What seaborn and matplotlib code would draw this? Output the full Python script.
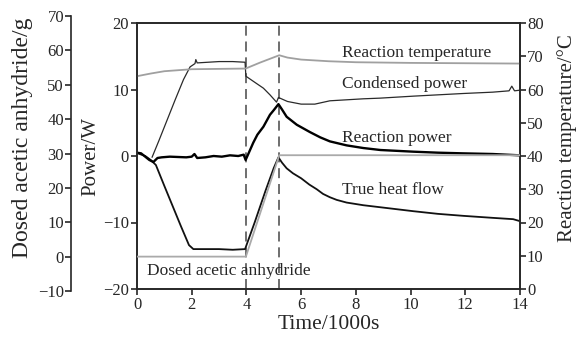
import numpy as np
import pandas as pd
import seaborn as sns
import matplotlib
matplotlib.use("Agg")
import matplotlib.pyplot as plt

# time axis in 1000 s
rp_t = [0, 0.15, 0.3, 0.45, 0.6, 0.75, 0.9, 1.2, 1.5, 1.8, 2.0, 2.1, 2.2, 2.5, 2.8,
        3.1, 3.4, 3.7, 3.9, 3.97, 4.1, 4.25, 4.4, 4.62, 4.86, 5.0, 5.17, 5.3, 5.47,
        5.84, 6.32, 6.7, 7.05, 7.66, 8.27, 8.9, 10.1, 11.0, 11.9, 13.0, 13.75, 14.0]
rp_w = [0.5, 0.4, -0.1, -0.6, -0.9, -0.3, -0.2, -0.1, -0.15, -0.2, -0.1, 0.3, -0.3,
        -0.2, 0.0, -0.1, 0.1, 0.0, 0.2, -0.6, 0.6, 2.0, 3.2, 4.4, 6.2, 6.9, 7.8, 7.0,
        5.9, 4.7, 3.6, 2.8, 2.2, 1.6, 1.2, 0.9, 0.65, 0.5, 0.4, 0.3, 0.15, 0.1]

thf_t = [0, 0.3, 0.5, 0.69, 1.0, 1.3, 1.6, 1.9, 2.06, 2.5, 3.0, 3.5, 3.95, 4.3, 4.7,
         5.0, 5.17, 5.3, 5.47, 5.7, 6.0, 6.3, 6.57, 6.8, 7.05, 7.3, 7.66, 8.27, 8.88,
         10.1, 11.0, 11.93, 13.0, 13.75, 14.0]
thf_w = [0.45, 0.0, -0.6, -1.35, -4.5, -7.5, -10.5, -13.4, -14.0, -14.0, -14.0,
         -14.1, -14.0, -10.0, -5.2, -1.8, -0.2, -1.0, -1.85, -2.6, -3.35, -4.3, -5.0,
         -5.7, -6.2, -6.6, -7.0, -7.4, -7.7, -8.3, -8.7, -9.0, -9.3, -9.5, -9.8]

cp_t = [0.55, 0.8, 1.1, 1.4, 1.7, 1.94, 2.12, 2.15, 2.2, 2.6, 3.0, 3.5, 3.95, 3.98,
        4.37, 4.62, 4.86, 5.1, 5.17, 5.5, 6.0, 6.5, 7.05, 8.27, 8.88, 10.1, 11.93,
        13.0, 13.6, 13.7, 13.8, 14.0]
cp_w = [-0.2, 2.3, 5.4, 8.5, 11.5, 13.4, 13.9, 14.5, 14.0, 14.1, 14.2, 14.2, 14.1,
        12.0, 10.9, 10.2, 9.2, 8.1, 8.8, 8.2, 7.8, 7.8, 8.3, 8.6, 8.7, 9.0, 9.4, 9.6,
        9.8, 10.5, 9.8, 9.9]

temp_t = [0, 0.5, 1.0, 1.5, 2.0, 3.0, 3.97, 4.5, 5.2, 5.5, 6.0, 7.0, 8.0, 9.0, 10.0,
          12.0, 14.0]
temp_c = [64.0, 64.8, 65.5, 65.8, 66.1, 66.2, 66.3, 68.1, 70.3, 69.6, 69.0, 68.5,
          68.2, 68.1, 68.0, 67.9, 67.8]

dose_t = [0, 3.98, 5.2, 14.0]
dose_g = [0, 0, 29.5, 29.5]

dash_t = [3.98, 5.2]

sns.set_style("ticks")
plt.rcParams["font.family"] = ["Liberation Serif", "DejaVu Serif"]
plt.rcParams["axes.linewidth"] = 1.2
plt.rcParams["xtick.major.width"] = 1.2
plt.rcParams["ytick.major.width"] = 1.2
plt.rcParams["xtick.major.size"] = 4
plt.rcParams["ytick.major.size"] = 4

fig = plt.figure(figsize=(5.79, 3.39), dpi=100)
L, R = 137 / 579, 520 / 579
ax = fig.add_axes([L, 1 - 289 / 339, R - L, (289 - 23) / 339])

# power traces on the main axis
sns.lineplot(x=cp_t, y=cp_w, ax=ax, color="#2a2a2a", lw=0.9, estimator=None)
sns.lineplot(x=thf_t, y=thf_w, ax=ax, color="#111111", lw=1.3, estimator=None)
sns.lineplot(x=rp_t, y=rp_w, ax=ax, color="#000000", lw=1.7, estimator=None)
for t in dash_t:
    ax.axvline(t, color="#555555", lw=1.2, ls=(0, (6, 3.5)), zorder=1)

ax.set_xlim(0, 14)
ax.set_ylim(-20, 20)
ax.set_xticks(range(0, 15, 2))
ax.set_yticks([-20, -10, 0, 10, 20])
ax.set_xlabel("Time/1000s", fontsize=15.5, labelpad=1)
ax.set_ylabel("Power/W", fontsize=15, labelpad=2)
ax.tick_params(labelsize=12, pad=2)

# reaction temperature on the right axis
ax2 = ax.twinx()
sns.lineplot(x=temp_t, y=temp_c, ax=ax2, color="#a0a0a0", lw=1.3, estimator=None)
ax2.set_ylim(0, 80)
ax2.set_yticks(range(0, 81, 10))
ax2.set_ylabel("Reaction temperature/°C", fontsize=15)
ax2.yaxis.set_label_coords(1.097, 0.568)
ax2.tick_params(labelsize=12, pad=1)

# dosed mass on the outer left axis
ax3 = fig.add_axes([L, 1 - 291 / 339, R - L, (291 - 16) / 339])
ax3.patch.set_visible(False)
sns.lineplot(x=dose_t, y=dose_g, ax=ax3, color="#aaaaaa", lw=1.3, estimator=None)
ax3.set_xlim(0, 14)
ax3.set_ylim(-10, 70)
ax3.set_yticks(range(-10, 71, 10))
for s in ["top", "right", "bottom"]:
    ax3.spines[s].set_visible(False)
ax3.spines["left"].set_position(("outward", 66 * 0.72))
ax3.xaxis.set_visible(False)
ax3.set_ylabel("Dosed acetic anhydride/g", fontsize=17)
ax3.yaxis.set_label_coords(-0.272, 0.556)
ax3.tick_params(labelsize=12, pad=1)

lab = dict(fontsize=12.5, ha="left", va="center")
ax.text(7.49, 15.5, "Reaction temperature", **lab)
ax.text(7.49, 10.8, "Condensed power", **lab)
ax.text(7.49, 2.7, "Reaction power", **lab)
ax.text(7.49, -5.1, "True heat flow", **lab)
ax.text(0.37, -17.3, "Dosed acetic anhydride", **lab)

fig.savefig("out.png", dpi=100)
